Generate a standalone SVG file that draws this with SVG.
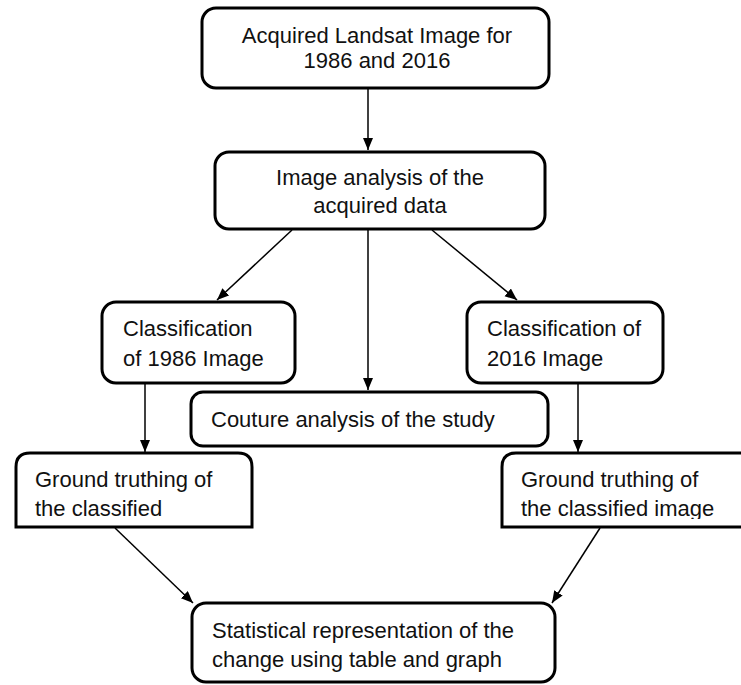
<svg xmlns="http://www.w3.org/2000/svg" width="741" height="685" viewBox="0 0 741 685">
<defs>
<marker id="ah" markerUnits="userSpaceOnUse" markerWidth="14" markerHeight="12" refX="12" refY="5" orient="auto">
<path d="M0,0 L12,5 L0,10 Z" fill="#000"/>
</marker>
<clipPath id="clipGT"><rect x="0" y="440" width="741" height="79"/></clipPath>
<style>
.box{fill:#fff;stroke:#000;stroke-width:3}
.t{font-family:"Liberation Sans",Arial,sans-serif;font-size:22px;fill:#111}
.c{text-anchor:middle}
.ln{stroke:#000;stroke-width:1.5;fill:none;marker-end:url(#ah)}
</style>
</defs>
<rect width="741" height="685" fill="#fff"/>
<g id="connectors">
<line class="ln" x1="368" y1="88" x2="368" y2="150"/>
<line class="ln" x1="292" y1="230" x2="217" y2="300"/>
<line class="ln" x1="368" y1="230" x2="368" y2="390"/>
<line class="ln" x1="432" y1="230" x2="517" y2="300"/>
<line class="ln" x1="145" y1="384" x2="145" y2="452"/>
<line class="ln" x1="578" y1="384" x2="578" y2="452"/>
<line class="ln" x1="115" y1="528" x2="193" y2="603"/>
<line class="ln" x1="600" y1="528" x2="552" y2="603"/>
</g>
<g id="n_acquired">
<rect class="box" x="202" y="8" width="347" height="80" rx="14"/>
<text class="t c" x="377" y="43">Acquired Landsat Image for</text>
<text class="t c" x="377" y="68">1986 and 2016</text>
</g>
<g id="n_analysis">
<rect class="box" x="215" y="152" width="330" height="77" rx="14"/>
<text class="t c" x="380" y="185">Image analysis of the</text>
<text class="t c" x="380" y="213">acquired data</text>
</g>
<g id="n_class1986">
<rect class="box" x="102" y="302" width="193" height="81" rx="14"/>
<text class="t" x="123" y="336">Classification</text>
<text class="t" x="123" y="366">of 1986 Image</text>
</g>
<g id="n_class2016">
<rect class="box" x="467" y="302" width="196" height="81" rx="14"/>
<text class="t" x="487" y="336">Classification of</text>
<text class="t" x="487" y="366">2016 Image</text>
</g>
<g id="n_couture">
<rect class="box" x="191" y="392" width="357" height="54" rx="12"/>
<text class="t" x="211" y="427">Couture analysis of the study</text>
</g>
<g id="n_ground1986">
<path class="box" d="M16,527 L16,467 Q16,453 30,453 L238,453 Q252,453 252,467 L252,527 Z"/>
<g clip-path="url(#clipGT)">
<text class="t" x="35" y="487">Ground truthing of</text>
<text class="t" x="35" y="516">the classified</text>
</g>
</g>
<g id="n_ground2016">
<path class="box" d="M502,527 L502,467 Q502,453 516,453 L760,453 L760,527 Z"/>
<g clip-path="url(#clipGT)">
<text class="t" x="521" y="487">Ground truthing of</text>
<text class="t" x="521" y="516">the classified image</text>
</g>
</g>
<g id="n_stats">
<rect class="box" x="192" y="603" width="363" height="79" rx="14"/>
<text class="t" x="212" y="638">Statistical representation of the</text>
<text class="t" x="212" y="667">change using table and graph</text>
</g>
</svg>
